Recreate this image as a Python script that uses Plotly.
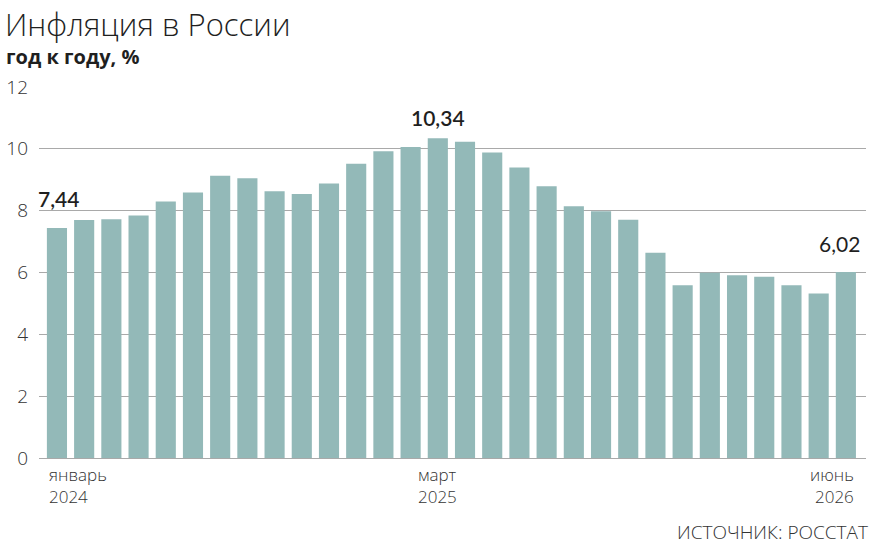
import plotly.graph_objects as go

# Monthly CPI, year over year, % (January 2024 - June 2026)
months = [
    "2024-01", "2024-02", "2024-03", "2024-04", "2024-05", "2024-06",
    "2024-07", "2024-08", "2024-09", "2024-10", "2024-11", "2024-12",
    "2025-01", "2025-02", "2025-03", "2025-04", "2025-05", "2025-06",
    "2025-07", "2025-08", "2025-09", "2025-10", "2025-11", "2025-12",
    "2026-01", "2026-02", "2026-03", "2026-04", "2026-05", "2026-06",
]
inflation = [
    7.44, 7.70, 7.72, 7.84, 8.30, 8.59,
    9.13, 9.05, 8.63, 8.54, 8.88, 9.52,
    9.92, 10.06, 10.34, 10.23, 9.88, 9.40,
    8.79, 8.14, 7.98, 7.71, 6.64, 5.59,
    5.99, 5.91, 5.86, 5.59, 5.32, 6.02,
]
y_ticks = [0, 2, 4, 6, 8, 10, 12]

# x labels: (index, month, year, anchor)
x_labels = [(0, "январь", "2024", "left"), (14, "март", "2025", "center"), (29, "июнь", "2026", "right")]
# highlighted values: (index, text, weight, lift px, side shift px)
callouts = [(0, "7,44", 600, 15, 2), (14, "10,34", 600, 6, 0), (29, "6,02", 400, 14, -6)]

BAR = "#93b9b8"
TEXT = "#1f1f1f"
FONT = "Lato"
THIN = "Open Sans"

idx = list(range(len(months)))

fig = go.Figure(go.Bar(
    x=idx,
    y=inflation,
    marker_color=BAR,
    marker_line_width=0,
    hovertext=months,
    width=0.74,
))

annotations = []
for i, txt, w, lift, side in callouts:
    annotations.append(dict(
        x=i, y=inflation[i], xref="x", yref="y", text=txt, showarrow=False,
        yanchor="bottom", yshift=lift, xshift=side, xanchor="center",
        font=dict(family=FONT, size=21, color=TEXT, weight=w),
    ))

shift = {"left": -0.37, "center": 0, "right": 0.37}
for i, m, yr, anc in x_labels:
    for txt, dy in ((m, -16), (yr, -38)):
        annotations.append(dict(
            x=i + shift[anc], y=0, xref="x", yref="y", text=txt,
            showarrow=False, xanchor=anc, yanchor="middle", yshift=dy,
            font=dict(family=THIN, size=17, color="#333333", weight=300),
        ))

annotations.append(dict(
    x=1, y=-0.2, xref="paper", yref="paper", text="ИСТОЧНИК: РОССТАТ",
    showarrow=False, xanchor="right", yanchor="middle", xshift=4,
    font=dict(family=THIN, size=19, color="#333333", weight=300),
))
annotations.append(dict(
    x=-0.043, y=1.233, xref="paper", yref="paper", text="Инфляция в России",
    showarrow=False, xanchor="left", yanchor="top",
    font=dict(family=THIN, size=31, color=TEXT, weight=300),
))
annotations.append(dict(
    x=-0.042, y=1.125, xref="paper", yref="paper", text="год к году, %",
    showarrow=False, xanchor="left", yanchor="top",
    font=dict(family=THIN, size=20, color=TEXT, weight=700),
))

fig.update_layout(
    width=872,
    height=552,
    margin=dict(l=39, r=6, t=87, b=94),
    paper_bgcolor="white",
    plot_bgcolor="white",
    showlegend=False,
    annotations=annotations,
    xaxis=dict(
        range=[-0.66, 29.74],
        showticklabels=False,
        showgrid=False,
        zeroline=False,
        fixedrange=True,
        automargin=False,
    ),
    yaxis=dict(
        range=[0, 12],
        tickvals=y_ticks,
        ticktext=[str(v) for v in y_ticks],
        showgrid=True,
        gridcolor="#a9a9a9",
        gridwidth=1,
        zeroline=True,
        zerolinecolor="#a9a9a9",
        zerolinewidth=1,
        ticklabelstandoff=10,
        tickfont=dict(family=THIN, size=19, color="#333333", weight=300),
        fixedrange=True,
        automargin=False,
    ),
)

fig.write_html(
    "out.html",
    config={"displayModeBar": False},
    post_script="document.body.style.margin='0';",
)
